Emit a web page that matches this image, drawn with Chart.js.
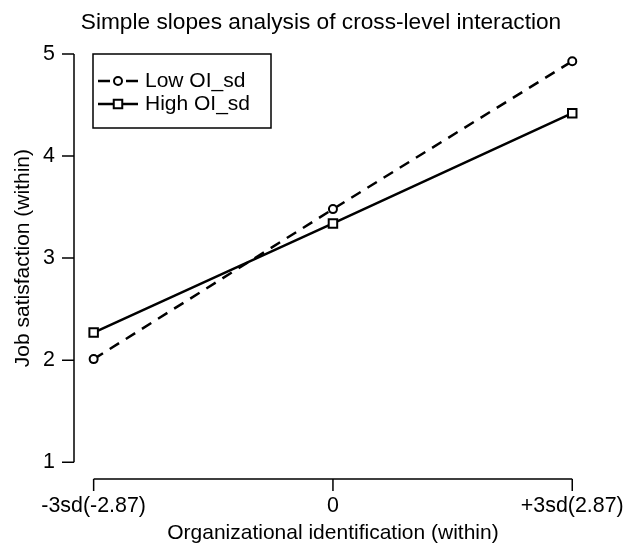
<!DOCTYPE html>
<html>
<head>
<meta charset="utf-8">
<script src="https://cdn.jsdelivr.net/npm/chart.js"></script>
<style>
  body { margin: 0; background: #fff; }
  #wrap { width: 624px; height: 550px; }
</style>
</head>
<body>
<div id="wrap"><canvas id="slopes" width="624" height="550"></canvas></div>
<script>
// data
const xValues = [-1, 0, 1];
const xLabels = ['-3sd(-2.87)', '0', '+3sd(2.87)'];
const lowOI = [2.01, 3.48, 4.93];
const highOI = [2.27, 3.34, 4.42];
const yTicks = [1, 2, 3, 4, 5];
const seriesNames = ['Low OI_sd', 'High OI_sd'];
const mainTitle = 'Simple slopes analysis of cross-level interaction';

const FONT = '"Liberation Sans", Arial, Helvetica, sans-serif';

const toPoints = (vals) => xValues.map((x, i) => ({ x, y: vals[i] }));

// R style axes (line only between first and last tick), title and legend
const rAxes = {
  id: 'rAxes',
  afterDraw(chart) {
    const { ctx, scales: { x, y }, chartArea } = chart;
    ctx.save();
    ctx.strokeStyle = '#000';
    ctx.lineWidth = 1.5;
    const ax = chartArea.left - 0.5;
    const y0 = y.getPixelForValue(yTicks[0]);
    const y1 = y.getPixelForValue(yTicks[yTicks.length - 1]);
    ctx.beginPath();
    ctx.moveTo(ax, y0); ctx.lineTo(ax, y1);
    yTicks.forEach(v => {
      const py = y.getPixelForValue(v);
      ctx.moveTo(ax - 12, py); ctx.lineTo(ax, py);
    });
    const ay = chartArea.bottom + 0.5;
    const x0 = x.getPixelForValue(xValues[0]);
    const x1 = x.getPixelForValue(xValues[xValues.length - 1]);
    ctx.moveTo(x0, ay); ctx.lineTo(x1, ay);
    xValues.forEach(v => {
      const px = x.getPixelForValue(v);
      ctx.moveTo(px, ay); ctx.lineTo(px, ay + 12);
    });
    ctx.stroke();

    // main title
    ctx.fillStyle = '#000';
    ctx.textBaseline = 'middle';
    ctx.textAlign = 'center';
    ctx.font = '22.7px ' + FONT;
    ctx.fillText(mainTitle, 321, 23);

    // legend box
    const bx = 93, by = 54, bw = 178, bh = 74;
    ctx.lineWidth = 1.5;
    ctx.strokeRect(bx, by, bw, bh);
    ctx.font = '21px ' + FONT;
    ctx.textAlign = 'left';
    chart.data.datasets.forEach((ds, i) => {
      const ry = 81 + i * 23;
      ctx.lineWidth = 2.5;
      ctx.setLineDash(ds.borderDash && ds.borderDash.length ? [12, 16] : []);
      ctx.beginPath();
      ctx.moveTo(98, ry); ctx.lineTo(138, ry);
      ctx.stroke();
      ctx.setLineDash([]);
      ctx.lineWidth = 2;
      ctx.fillStyle = '#fff';
      ctx.beginPath();
      if (ds.pointStyle === 'rect') {
        ctx.rect(118 - 4.25, ry - 4.25, 8.5, 8.5);
      } else {
        ctx.arc(118, ry, 4, 0, Math.PI * 2);
      }
      ctx.fill();
      ctx.stroke();
      ctx.fillStyle = '#000';
      ctx.fillText(ds.label, 145, ry);
    });
    ctx.restore();
  }
};

new Chart(document.getElementById('slopes'), {
  type: 'line',
  data: {
    datasets: [
      {
        label: seriesNames[0],
        data: toPoints(lowOI),
        borderColor: '#000',
        borderWidth: 2.5,
        borderDash: [11, 8],
        pointStyle: 'circle',
        pointRadius: 4,
        pointBorderWidth: 2,
        pointBorderColor: '#000',
        pointBackgroundColor: '#fff',
        tension: 0
      },
      {
        label: seriesNames[1],
        data: toPoints(highOI),
        borderColor: '#000',
        borderWidth: 2.5,
        pointStyle: 'rect',
        pointRadius: 6,
        pointBorderWidth: 2,
        pointBorderColor: '#000',
        pointBackgroundColor: '#fff',
        tension: 0
      }
    ]
  },
  options: {
    responsive: false,
    animation: false,
    layout: { padding: { top: 37.7, right: 32.6, bottom: 0, left: 0 } },
    plugins: {
      legend: { display: false },
      tooltip: { enabled: false },
      title: { display: false }
    },
    scales: {
      x: {
        type: 'linear',
        min: -1.08,
        max: 1.08,
        afterBuildTicks: (s) => { s.ticks = xValues.map(v => ({ value: v })); },
        afterFit: (s) => {
          s.height = 71.5;
          s.paddingLeft = 0;
          s.paddingRight = 0;
        },
        grid: { display: false, drawTicks: false, tickLength: 0 },
        border: { display: false },
        ticks: {
          color: '#000',
          padding: 15,
          maxRotation: 0,
          font: { family: FONT, size: 21.4 },
          callback: (v) => xLabels[xValues.indexOf(v)]
        },
        title: {
          display: true,
          text: 'Organizational identification (within)',
          color: '#000',
          font: { family: FONT, size: 21 },
          padding: { top: 0, bottom: 4 }
        }
      },
      y: {
        min: 0.84,
        max: 5.16,
        afterBuildTicks: (s) => { s.ticks = yTicks.map(v => ({ value: v })); },
        afterFit: (s) => {
          s.width = 74.5;
          s.paddingTop = 0;
          s.paddingBottom = 0;
        },
        grid: { display: false, drawTicks: false, tickLength: 0 },
        border: { display: false },
        ticks: {
          color: '#000',
          padding: 19.5,
          font: { family: FONT, size: 21.4 }
        },
        title: {
          display: true,
          text: 'Job satisfaction (within)',
          color: '#000',
          font: { family: FONT, size: 21 },
          padding: { top: 10.5, bottom: 0 }
        }
      }
    }
  },
  plugins: [rAxes]
});
</script>
</body>
</html>
